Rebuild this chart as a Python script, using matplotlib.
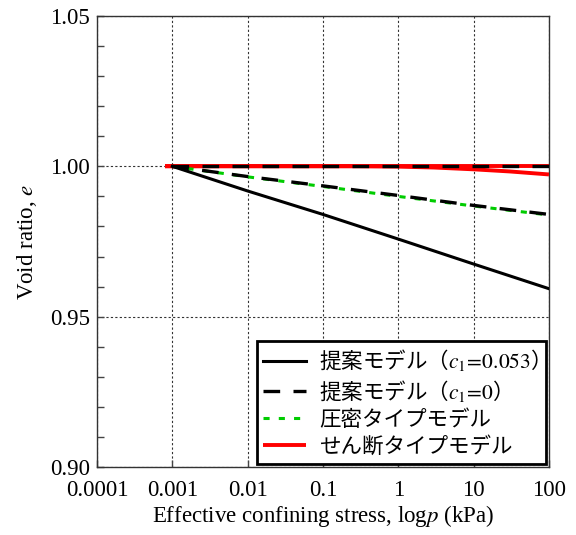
import matplotlib
matplotlib.use("Agg")
import matplotlib.pyplot as plt
from matplotlib.ticker import FixedLocator, MultipleLocator, NullLocator

plt.rcParams['font.family'] = ['Liberation Serif', 'Noto Sans CJK JP']
plt.rcParams['mathtext.fontset'] = 'stix'

# Proposed model, c1 = 0.053
p_c053 = [0.001, 0.01, 0.1, 1, 10, 100]
e_c053 = [1.000, 0.9918, 0.9840, 0.9758, 0.9675, 0.9593]

# Proposed model, c1 = 0 (two loading paths)
p_c0_flat = [0.001, 100]
e_c0_flat = [1.000, 1.000]
p_c0 = [0.001, 0.01, 0.1, 1, 10, 100]
e_c0 = [1.000, 0.9966, 0.9935, 0.9903, 0.9870, 0.9840]

# Consolidation-type model
p_cons = [0.001, 0.01, 0.1, 1, 10, 100]
e_cons = [1.000, 0.9965, 0.9933, 0.9900, 0.9868, 0.9838]

# Shear-type model (two loading paths)
p_shear_flat = [0.0008, 100]
e_shear_flat = [1.000, 1.000]
p_shear = [0.0008, 0.3, 1, 3, 10, 30, 100]
e_shear = [1.000, 1.000, 0.9999, 0.9996, 0.9990, 0.9983, 0.9973]

x_ticks = [0.0001, 0.001, 0.01, 0.1, 1, 10, 100]
x_ticklabels = ['0.0001', '0.001', '0.01', '0.1', '1', '10', '100']
y_ticks = [0.90, 0.95, 1.00, 1.05]
y_ticklabels = ['0.90', '0.95', '1.00', '1.05']

labels = [r'提案モデル（$c_1\!=\!0.053$）', r'提案モデル（$c_1\!=\!0$）',
          '圧密タイプモデル', 'せん断タイプモデル']

FS = 16.5

fig = plt.figure(figsize=(5.76, 5.35), dpi=100)
ax = fig.add_axes([0.1684, 0.1271, 0.7847, 0.8430])

ax.plot(p_shear_flat, e_shear_flat, color='#ff0000', lw=2.8, solid_capstyle='butt', zorder=3)
h_shear, = ax.plot(p_shear, e_shear, color='#ff0000', lw=2.8, solid_capstyle='butt', zorder=3)
h_cons, = ax.plot(p_cons, e_cons, color='#00cc00', lw=2.2, ls=(0, (2.0, 3.0)), zorder=4)
h_c0, = ax.plot(p_c0, e_c0, color='black', lw=2.4, ls=(0, (5, 4)), zorder=5)
ax.plot(p_c0_flat, e_c0_flat, color='black', lw=2.4, ls=(0, (5, 4)), zorder=5)
h_c053, = ax.plot(p_c053, e_c053, color='black', lw=2.2, zorder=6)

ax.set_xscale('log')
ax.set_xlim(0.0001, 100)
ax.set_ylim(0.90, 1.05)

ax.xaxis.set_major_locator(FixedLocator(x_ticks))
ax.xaxis.set_minor_locator(NullLocator())
ax.set_xticklabels(x_ticklabels)
ax.yaxis.set_major_locator(FixedLocator(y_ticks))
ax.yaxis.set_minor_locator(MultipleLocator(0.01))
ax.set_yticklabels(y_ticklabels)

ax.tick_params(axis='both', which='both', direction='in', labelsize=FS,
               top=False, right=False, color='#444444')
ax.tick_params(axis='both', which='major', length=5, width=1)
ax.tick_params(axis='y', which='minor', length=5, width=1)
ax.tick_params(axis='x', pad=9)
ax.tick_params(axis='y', pad=5)

ax.grid(True, which='major', color='#333333', ls=(0, (2, 2)), lw=0.8)
for s in ax.spines.values():
    s.set_linewidth(1.0)
    s.set_color('#333333')

ax.set_xlabel('Effective confining stress, log$p$ (kPa)', fontsize=FS, labelpad=2)
ax.set_ylabel('Void ratio, $e$', fontsize=FS, labelpad=8)

leg = ax.legend([h_c053, h_c0, h_cons, h_shear], labels, loc='lower right',
                prop={'family': 'Noto Sans CJK JP', 'size': 15.5},
                frameon=True, fancybox=False, edgecolor='black',
                borderaxespad=0.15, handlelength=2.0, handletextpad=0.6,
                labelspacing=0.22, borderpad=0.3)
leg.get_frame().set_linewidth(2.0)
leg.get_frame().set_alpha(1)

fig.savefig('out.png', dpi=100)
